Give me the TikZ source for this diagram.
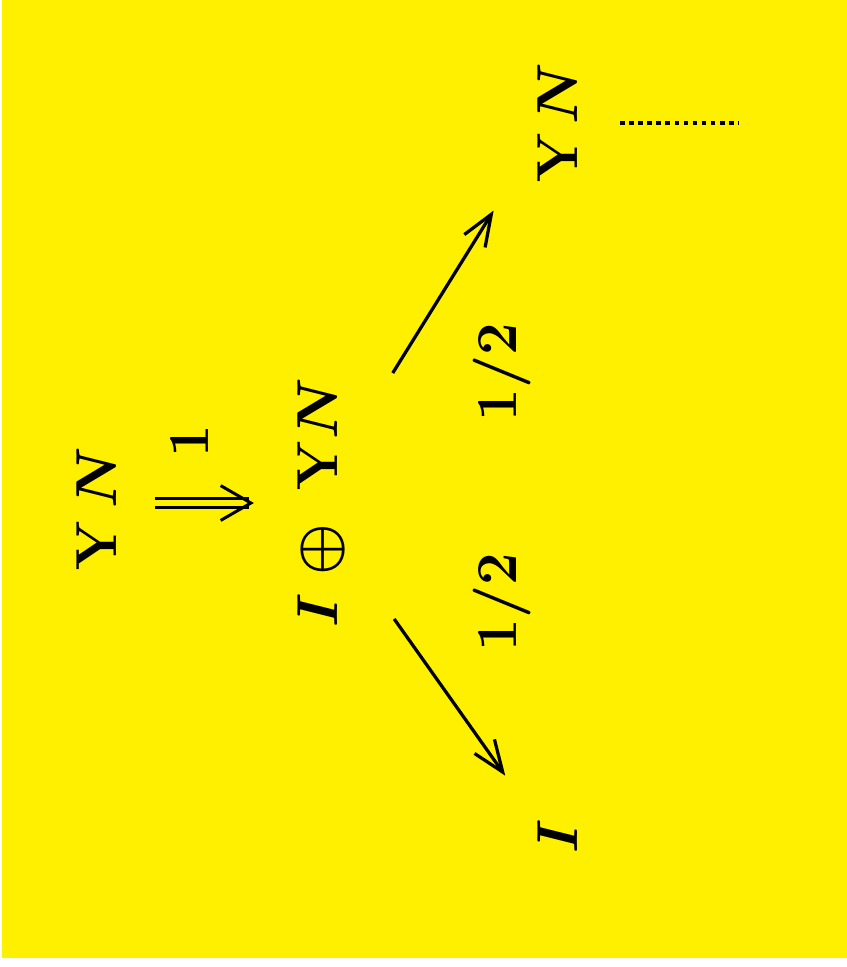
\documentclass[tikz,border=0pt]{standalone}
\usepackage{amsmath,bm}
\definecolor{bgyellow}{RGB}{255,240,0}
\usetikzlibrary{arrows.meta}

\begin{document}
\begin{tikzpicture}[x=0.43pt, y=-0.43pt,
  lbl/.style={rotate=90, inner sep=0pt, font=\Huge\boldmath},
  branch/.style={line width=1.4pt, -{Straight Barb[length=13.5pt, width=10.5pt, line width=1.4pt]}},
  dotpath/.style={line width=2pt, dash pattern=on 2pt off 1.9pt}]
  \useasboundingbox (0,0) rectangle (847,967);
  \fill[bgyellow] (2,0) rectangle (847,958);

  % rotated labels
  \node[lbl] (yn0) at (97,509) {$\mathbf{Y}\mkern3mu\bm{N}$};
  \node[lbl] (sum) at (322,503) {$\bm{I}\mkern1mu\oplus\mkern5mu\mathbf{Y}\bm{N}$};
  \node[lbl] (yn1) at (558,123) {$\mathbf{Y}\mkern2mu\bm{N}$};
  \node[lbl] (ii) at (558,836) {$\bm{I}$};
  \node[lbl] (w0) at (190,441) {$\mathbf{1}$};
  \node[lbl] (w1) at (502,372) {$\mathbf{1/2}$};
  \node[lbl] (w2) at (502,602) {$\mathbf{1/2}$};
  \coordinate (dots) at (739,123);

  % connectors
  \draw[line width=1.29pt, double=bgyellow, double distance=2.6pt,
    -{Straight Barb[length=13pt, width=15pt, line width=1.29pt]},
    shorten <=16.3pt, shorten >=18.9pt] (yn0.south |- sum.north) -- (sum.north);
  \draw[branch, shorten <=65.8pt, shorten >=44.3pt] ([xshift=-4.3pt]sum.center) -- ([xshift=-4.3pt]yn1.center);
  \draw[branch, shorten <=61.1pt, shorten >=31.8pt] ([xshift=-4.3pt]sum.center) -- ([xshift=-4.3pt]ii.center);
  \draw[dotpath, shorten <=26.7pt] (yn1.center) -- (dots);
\end{tikzpicture}
\end{document}
